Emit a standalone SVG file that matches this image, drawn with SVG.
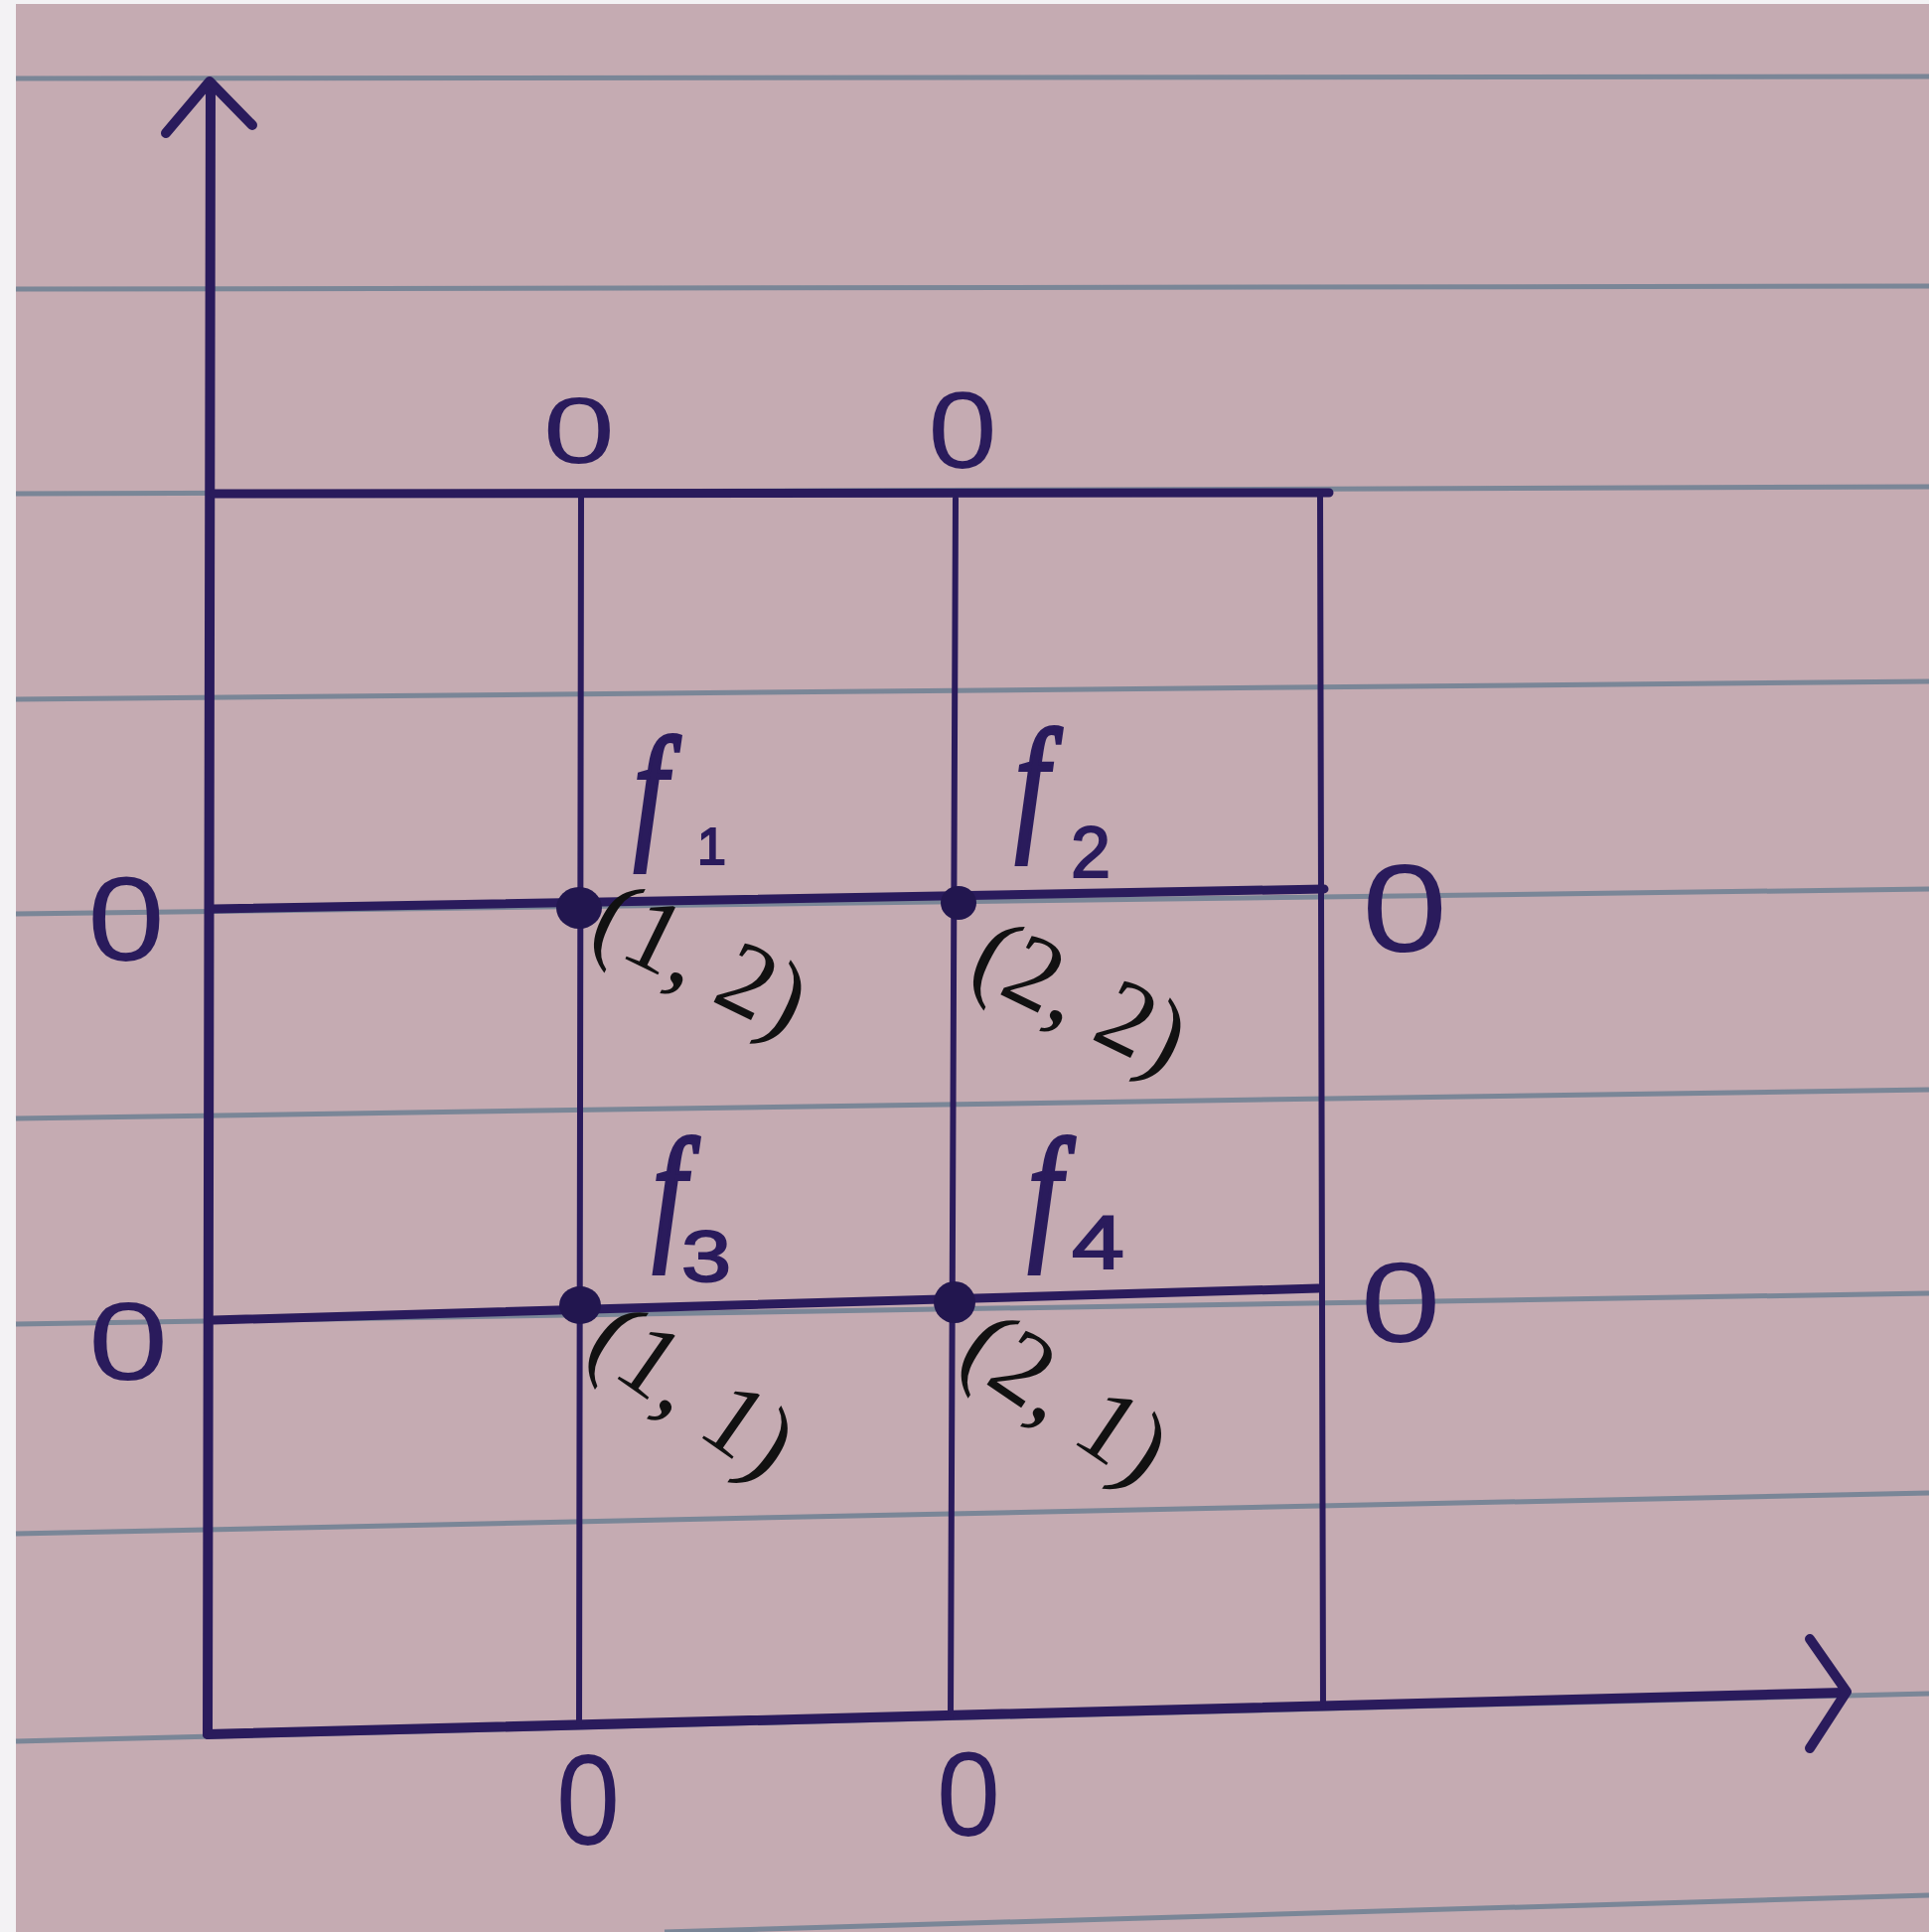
<svg xmlns="http://www.w3.org/2000/svg" width="1942" height="1945" viewBox="0 0 1942 1945">
<style>
.rule{stroke:#6c7f92;stroke-width:5;fill:none;opacity:0.85}
.pen{stroke:#2a1b5c;fill:none;stroke-linecap:round;stroke-linejoin:round}
.ax{stroke-width:10}
.hz{stroke-width:9}
.vt{stroke-width:6}
.dot{fill:#22164f}
.zero{font-family:"Liberation Sans",Arial,sans-serif;font-size:100px;fill:#2a1b5c;text-anchor:middle}
.f{font-family:"Liberation Serif","Times New Roman",serif;font-style:italic;font-size:150px;fill:#2a1b5c;stroke:#2a1b5c;stroke-width:4}
.sub{font-family:"Liberation Sans",Arial,sans-serif;fill:#2a1b5c;stroke:#2a1b5c;stroke-width:2}
.coord{font-family:"Liberation Serif","Times New Roman",serif;font-size:104px;fill:#111}
</style>
<rect x="0" y="0" width="1942" height="1945" fill="#f3f2f4"/>
<rect x="16" y="4" width="1926" height="1941" fill="#c5abb2"/>
<g id="ruled-paper">
<line class="rule" x1="16" y1="79" x2="1942" y2="77"/>
<line class="rule" x1="16" y1="291" x2="1942" y2="288"/>
<line class="rule" x1="16" y1="497" x2="1942" y2="490"/>
<line class="rule" x1="16" y1="704" x2="1942" y2="686"/>
<line class="rule" x1="16" y1="920" x2="1942" y2="895"/>
<line class="rule" x1="16" y1="1126" x2="1942" y2="1097"/>
<line class="rule" x1="16" y1="1333" x2="1942" y2="1302"/>
<line class="rule" x1="16" y1="1544" x2="1942" y2="1503"/>
<line class="rule" x1="16" y1="1753" x2="1942" y2="1705"/>
<line class="rule" x1="669" y1="1945" x2="1942" y2="1908"/>
</g>
<g id="connectors">
<g id="y-axis" class="pen ax">
<line x1="212" y1="84" x2="209" y2="1746"/>
<polyline points="167,134 211,82 254,126"/>
</g>
<g id="x-axis" class="pen ax">
<line x1="209" y1="1746" x2="1856" y2="1704"/>
<polyline points="1822,1650 1859,1703 1822,1760"/>
</g>
<g id="grid" class="pen">
<line class="hz" x1="215" y1="497" x2="1338" y2="496"/>
<line class="hz" x1="215" y1="915" x2="1333" y2="895"/>
<line class="hz" x1="215" y1="1329" x2="1327" y2="1297"/>
<line class="vt" x1="585" y1="500" x2="583" y2="1738"/>
<line class="vt" x1="962" y1="502" x2="957" y2="1728"/>
<line class="vt" x1="1329" y1="496" x2="1332" y2="1718"/>
</g>
</g>
<g id="points">
<ellipse class="dot" cx="583" cy="914" rx="23" ry="21"/>
<ellipse class="dot" cx="965" cy="909" rx="18" ry="17"/>
<ellipse class="dot" cx="584" cy="1314" rx="21" ry="19"/>
<ellipse class="dot" cx="961" cy="1311" rx="21" ry="21"/>
</g>
<g id="boundary-zeros">
<text class="zero" transform="translate(583,432) scale(1.3,0.95)" x="0" y="36">0</text>
<text class="zero" transform="translate(969,431) scale(1.25,1.1)" x="0" y="36">0</text>
<text class="zero" transform="translate(127,924) scale(1.4,1.2)" x="0" y="36">0</text>
<text class="zero" transform="translate(129,1349) scale(1.45,1.12)" x="0" y="36">0</text>
<text class="zero" transform="translate(1414,912) scale(1.55,1.27)" x="0" y="36">0</text>
<text class="zero" transform="translate(1410,1310) scale(1.45,1.15)" x="0" y="36">0</text>
<text class="zero" transform="translate(592,1810) scale(1.15,1.3)" x="0" y="36">0</text>
<text class="zero" transform="translate(975,1805) scale(1.15,1.2)" x="0" y="36">0</text>
</g>
<g id="f1">
<text class="f" transform="translate(638,846) scale(0.8,1)">f</text>
<text class="sub" x="702" y="870" font-size="52">1</text>
<text class="coord" transform="translate(590,946) rotate(26)">(1, 2)</text>
</g>
<g id="f2">
<text class="f" transform="translate(1022,838) scale(0.8,1)">f</text>
<text class="sub" x="1078" y="883" font-size="72">2</text>
<text class="coord" transform="translate(972,984) rotate(26)">(2, 2)</text>
</g>
<g id="f3">
<text class="f" transform="translate(657,1250) scale(0.8,1)">f</text>
<text class="sub" transform="translate(686,1290) scale(1.25,1)" font-size="72">3</text>
<text class="coord" transform="translate(586,1363) rotate(35)">(1, 1)</text>
</g>
<g id="f4">
<text class="f" transform="translate(1035,1250) scale(0.8,1)">f</text>
<text class="sub" transform="translate(1079,1277) scale(1.25,1)" font-size="76">4</text>
<text class="coord" transform="translate(961,1372) rotate(34)">(2, 1)</text>
</g>
</svg>
